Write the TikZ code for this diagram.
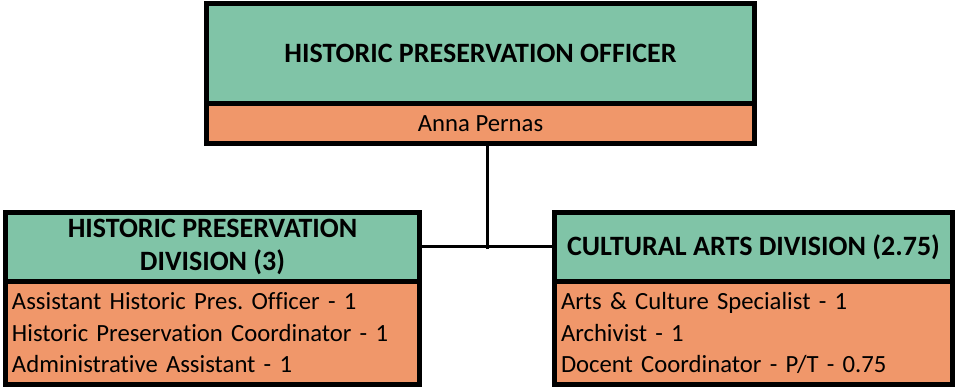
\documentclass[tikz,border=0pt]{standalone}
\usepackage{fontspec}
\setmainfont{Carlito}[Ligatures=NoCommon]
\usepackage{tikz}
\usetikzlibrary{positioning, calc}

\definecolor{headgreen}{RGB}{128,196,167}
\definecolor{staffpeach}{RGB}{240,151,106}

\begin{document}
\frenchspacing
\begin{tikzpicture}[x=1pt, y=-1pt,
    box/.style={draw, line width=5pt, inner sep=0pt},
    headbox/.style={box, fill=headgreen, align=center, font=\bfseries\fontsize{28}{33}\selectfont},
    staffbox/.style={box, fill=staffpeach, font=\fontsize{24.7}{31.5}\selectfont},
    link/.style={line width=3pt}]
    \useasboundingbox (0,0) rectangle (955,387);

    % officer on top
    \node[headbox, minimum width=548pt, minimum height=100pt] (officer) at (480.5, 53.5) {HISTORIC PRESERVATION OFFICER};
    \node[staffbox, minimum width=548pt, minimum height=40pt] (officername) at (480.5, 123.5) {Anna Pernas};

    % the two divisions
    \node[headbox, minimum width=414pt, minimum height=69pt] (hpdhead) at (212.5, 247) {HISTORIC PRESERVATION\\DIVISION (3)};
    \node[staffbox, minimum width=414pt, minimum height=103pt, text width=401pt, align=left] (hpdstaff) at (212.5, 333) {Assistant Historic Pres. Officer - 1\\Historic Preservation Coordinator - 1\\Administrative Assistant - 1};
    \node[headbox, minimum width=398pt, minimum height=69pt] (cadhead) at (753.5, 247) {CULTURAL ARTS DIVISION (2.75)};
    \node[staffbox, minimum width=398pt, minimum height=103pt, text width=385pt, align=left] (cadstaff) at (753.5, 333) {Arts \& Culture Specialist - 1\\Archivist - 1\\Docent Coordinator - P/T - 0.75};

    \coordinate (tee) at (487.5, 249);
    \draw[link] (officername.south -| tee) -- (tee);
    \draw[link] (hpdhead.east) -- (cadhead.west);
\end{tikzpicture}
\end{document}
